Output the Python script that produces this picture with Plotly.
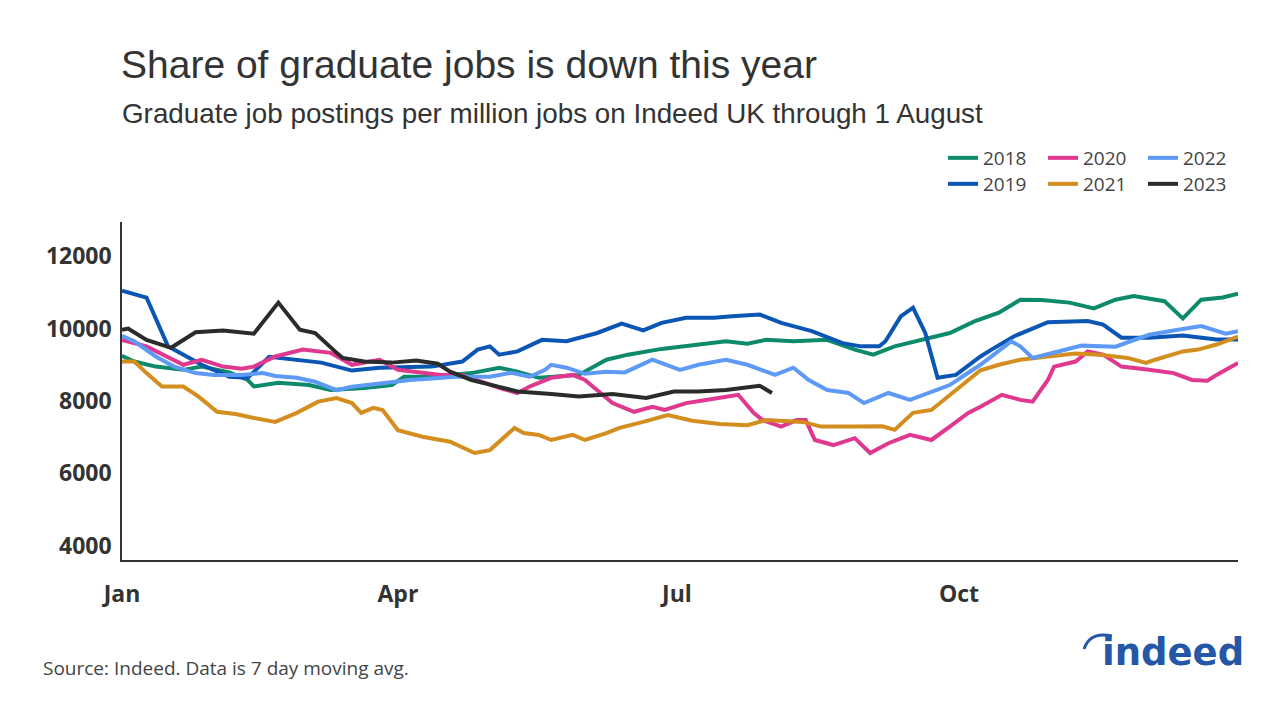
import pandas as pd
import plotly.graph_objects as go

# all years are drawn on one Jan-Dec axis
AXIS_YEAR_START = pd.Timestamp("2023-01-01")

# day of year / graduate postings per million jobs
days_2018 = [0, 4, 11, 20, 26, 35, 41, 43, 51, 61, 68, 79, 88, 92, 101, 114, 123, 129, 136, 140,
             149, 158, 165, 176, 187, 197, 204, 210, 219, 230, 239, 245, 252, 261, 270, 278, 286,
             293, 300, 309, 317, 324, 330, 340, 346, 352, 359, 364]
vals_2018 = [9250, 9090, 8950, 8860, 8950, 8790, 8580, 8400, 8500, 8440, 8300, 8360, 8440, 8670,
             8670, 8770, 8920, 8810, 8640, 8670, 8720, 9140, 9280, 9440, 9560, 9650, 9580, 9690,
             9650, 9690, 9420, 9280, 9510, 9690, 9880, 10200, 10440, 10800, 10790, 10720, 10560,
             10800, 10900, 10760, 10280, 10800, 10860, 10970]

days_2019 = [0, 8, 15, 20, 26, 35, 41, 48, 57, 65, 75, 84, 101, 111, 116, 120, 123, 129, 137, 145,
             155, 163, 170, 176, 184, 193, 199, 208, 215, 225, 235, 241, 247, 249, 254, 258, 262,
             266, 272, 280, 284, 291, 302, 315, 320, 326, 335, 346, 357, 364]
vals_2019 = [11050, 10860, 9510, 9280, 9000, 8670, 8640, 9220, 9140, 9060, 8840, 8920, 8950, 9090,
             9420, 9510, 9280, 9370, 9690, 9650, 9880, 10140, 9950, 10160, 10300, 10300, 10340,
             10390, 10160, 9930, 9600, 9510, 9510, 9650, 10340, 10580, 9880, 8640, 8720, 9230,
             9440, 9790, 10180, 10210, 10110, 9750, 9750, 9810, 9700, 9700]

days_2020 = [0, 8, 20, 26, 33, 39, 43, 50, 59, 68, 75, 84, 90, 104, 111, 123, 129, 133, 140, 147,
             151, 160, 167, 173, 177, 184, 193, 201, 206, 209, 215, 220, 223, 226, 232, 239, 244,
             250, 257, 264, 270, 276, 280, 287, 293, 297, 302, 304, 311, 315, 320, 326, 335, 343,
             349, 354, 357, 364]
vals_2020 = [9690, 9510, 9000, 9140, 8950, 8890, 8950, 9230, 9420, 9330, 9000, 9140, 8860, 8720,
             8720, 8360, 8220, 8400, 8640, 8720, 8580, 7940, 7700, 7840, 7750, 7940, 8060, 8170,
             7670, 7470, 7290, 7470, 7470, 6920, 6780, 6970, 6560, 6830, 7060, 6920, 7290, 7670,
             7840, 8170, 8030, 7980, 8580, 8950, 9090, 9370, 9280, 8950, 8860, 8770, 8580, 8560,
             8720, 9050]

days_2021 = [0, 4, 8, 13, 20, 25, 31, 37, 43, 50, 57, 64, 70, 75, 78, 82, 85, 90, 98, 107, 115,
             120, 128, 131, 136, 140, 147, 151, 158, 162, 170, 178, 186, 195, 204, 210, 222, 228,
             239, 248, 252, 258, 264, 272, 280, 286, 293, 302, 311, 319, 328, 334, 337, 346, 351,
             357, 364]
vals_2021 = [9090, 9090, 8770, 8400, 8400, 8120, 7700, 7640, 7530, 7420, 7670, 7980, 8080, 7940,
             7670, 7810, 7750, 7190, 7010, 6870, 6560, 6640, 7250, 7110, 7060, 6920, 7060, 6920,
             7110, 7250, 7420, 7610, 7450, 7360, 7330, 7470, 7420, 7290, 7290, 7300, 7200, 7670,
             7750, 8300, 8850, 9000, 9140, 9230, 9310, 9280, 9190, 9050, 9140, 9370, 9420, 9560,
             9780]

days_2022 = [0, 4, 11, 17, 24, 30, 39, 46, 50, 57, 63, 70, 75, 84, 94, 109, 120, 127, 133, 138,
             140, 145, 151, 158, 164, 173, 182, 188, 197, 204, 210, 213, 219, 224, 230, 237, 242,
             250, 257, 263, 270, 276, 280, 290, 293, 297, 304, 313, 324, 335, 343, 352, 360, 364]
vals_2022 = [9800, 9650, 9230, 8950, 8770, 8720, 8720, 8770, 8690, 8640, 8530, 8300, 8390, 8470,
             8580, 8670, 8670, 8780, 8670, 8860, 9000, 8920, 8750, 8810, 8790, 9140, 8860, 9000,
             9140, 9000, 8810, 8720, 8920, 8580, 8300, 8220, 7940, 8220, 8030, 8220, 8440, 8780,
             9000, 9650, 9510, 9190, 9330, 9530, 9500, 9830, 9950, 10070, 9860, 9930]

days_2023 = [0, 2, 8, 16, 24, 33, 43, 51, 58, 63, 70, 72, 79, 88, 96, 103, 107, 114, 123, 129,
             140, 149, 160, 171, 180, 188, 197, 204, 208, 212]
vals_2023 = [9970, 10000, 9690, 9470, 9900, 9950, 9860, 10720, 9970, 9880, 9330, 9190, 9090, 9060,
             9120, 9030, 8810, 8580, 8390, 8260, 8190, 8120, 8190, 8080, 8260, 8260, 8300, 8390,
             8420, 8220]

tick_dates = ["2023-01-01", "2023-04-01", "2023-07-01", "2023-10-01"]
tick_labels = ["Jan", "Apr", "Jul", "Oct"]
y_ticks = [4000, 6000, 8000, 10000, 12000]

# name, days, values, colour, which legend row
series = [
    ("2018", days_2018, vals_2018, "#0d8a6b", "legend"),
    ("2019", days_2019, vals_2019, "#0b55b5", "legend2"),
    ("2020", days_2020, vals_2020, "#e0378f", "legend"),
    ("2021", days_2021, vals_2021, "#d38e1f", "legend2"),
    ("2022", days_2022, vals_2022, "#5e9af5", "legend"),
    ("2023", days_2023, vals_2023, "#2b2b2b", "legend2"),
]

fig = go.Figure()
for name, days, vals, color, leg in series:
    fig.add_trace(go.Scatter(
        x=AXIS_YEAR_START + pd.to_timedelta(days, unit="D"),
        y=vals,
        name=name,
        mode="lines",
        line=dict(color=color, width=4),
        legend=leg,
    ))

# the page body has an 8px margin, so container positions are offset by it
OFF = 8
W, H = 1280, 720

legend_style = dict(
    orientation="h",
    xref="container", yref="container",
    x=(943 - OFF) / W, xanchor="left", yanchor="middle",
    entrywidth=55, entrywidthmode="pixels",
    font=dict(family="Open Sans", size=19, color="#444"),
    bgcolor="rgba(0,0,0,0)",
)

fig.update_layout(
    width=W, height=H,
    margin=dict(l=122 - OFF, r=42 + OFF, t=222 - OFF, b=160 + OFF),
    paper_bgcolor="white", plot_bgcolor="white",
    title=dict(
        text="Share of graduate jobs is down this year",
        font=dict(family="Liberation Sans", size=39, color="#333"),
        xref="container", yref="container",
        x=(121 - OFF) / W, xanchor="left", y=1 - (64 - OFF) / H, yanchor="middle",
    ),
    legend=dict(legend_style, y=1 - (158 - OFF) / H),
    legend2=dict(legend_style, y=1 - (184 - OFF) / H),
    annotations=[
        dict(text="Graduate job postings per million jobs on Indeed UK through 1 August",
             xref="paper", yref="paper", x=-0.002, y=(560 - 114) / 338,
             xanchor="left", yanchor="middle", showarrow=False,
             font=dict(family="Liberation Sans", size=27.8, color="#333")),
        dict(text="Source: Indeed. Data is 7 day moving avg.",
             xref="paper", yref="paper", x=(41 - 122) / 1116, y=(560 - 668) / 338,
             xanchor="left", yanchor="middle", showarrow=False,
             font=dict(family="Open Sans", size=19, color="#444")),
        dict(text="<b>indeed</b>",
             xref="paper", yref="paper", x=(1246 - 122) / 1116, y=(560 - 652) / 338,
             xanchor="right", yanchor="middle", showarrow=False,
             font=dict(family="DejaVu Sans", size=37, color="#2557a7")),
    ],
    shapes=[
        # little arc of the logo
        dict(type="path", xref="paper", yref="paper",
             path="M %f,%f Q %f,%f %f,%f" % (
                 (1084 - 122) / 1116, (560 - 649) / 338,
                 (1090 - 122) / 1116, (560 - 631) / 338,
                 (1112 - 122) / 1116, (560 - 636) / 338),
             line=dict(color="#2557a7", width=3)),
    ],
    xaxis=dict(
        range=["2023-01-01", "2023-12-31"],
        tickvals=tick_dates, ticktext=tick_labels,
        showgrid=False, zeroline=False,
        showline=True, linecolor="#333", linewidth=1.5,
        ticks="outside", ticklen=13, tickcolor="rgba(0,0,0,0)",
        tickfont=dict(family="Open Sans", size=23, color="#333", weight="bold"),
    ),
    yaxis=dict(
        range=[3600, 12950],
        tickvals=y_ticks, tickformat="d",
        showgrid=False, zeroline=False,
        showline=True, linecolor="#333", linewidth=1.5,
        ticks="outside", ticklen=4, tickcolor="rgba(0,0,0,0)",
        tickfont=dict(family="Open Sans", size=23, color="#333", weight="bold"),
    ),
    showlegend=True,
)

fig.write_html("out.html")
